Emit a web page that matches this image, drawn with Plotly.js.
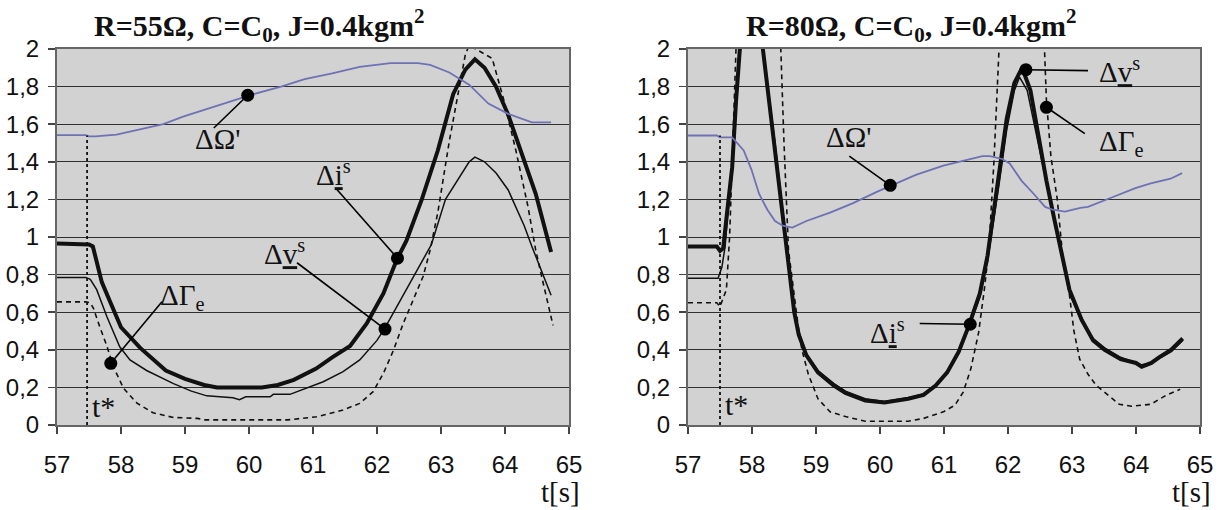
<!DOCTYPE html>
<html>
<head>
<meta charset="utf-8">
<script src="https://cdn.plot.ly/plotly-3.0.1.min.js"></script>
<style>html,body{margin:0;padding:0;background:#fff;}</style>
</head>
<body>
<div id="chart" style="width:1224px;height:510px;"></div>
<script>
// ---------- LEFT: R=55 ohm ----------
const iL_x = [57,57.45,57.5,57.56,57.7,57.8,58.0,58.3,58.7,59.0,59.3,59.5,60.2,60.45,60.7,61.05,61.3,61.58,61.84,62.1,62.31,62.46,62.7,62.95,63.19,63.38,63.53,63.68,63.86,64.05,64.3,64.48,64.72];
const iL_y = [0.965,0.965,0.96,0.95,0.76,0.68,0.52,0.41,0.29,0.245,0.213,0.20,0.20,0.213,0.24,0.30,0.36,0.42,0.54,0.70,0.88,0.98,1.2,1.46,1.76,1.89,1.945,1.9,1.8,1.65,1.41,1.23,0.92];

const vL_x = [57,57.45,57.52,57.62,57.78,57.98,58.14,58.4,58.82,59.1,59.34,59.75,59.85,59.95,60.33,60.38,60.64,60.95,61.16,61.47,61.73,62.0,62.12,62.31,62.57,62.78,62.85,63.07,63.25,63.44,63.53,63.68,63.86,64.05,64.3,64.42,64.72];
const vL_y = [0.785,0.785,0.775,0.72,0.576,0.416,0.346,0.29,0.22,0.18,0.155,0.145,0.135,0.15,0.15,0.163,0.163,0.204,0.23,0.284,0.346,0.45,0.514,0.63,0.79,0.913,0.96,1.2,1.3,1.40,1.425,1.40,1.34,1.25,1.06,0.95,0.69];

const gL_x = [57,57.45,57.52,57.57,57.67,57.78,57.88,58.04,58.25,58.5,58.82,59.2,59.3,60.6,61.06,61.47,61.73,61.94,62.1,62.26,62.41,62.57,62.72,62.83,62.95,63.13,63.25,63.38,63.44,63.8,63.98,64.17,64.36,64.48,64.6,64.75];
const gL_y = [0.655,0.655,0.65,0.62,0.52,0.42,0.31,0.195,0.116,0.065,0.04,0.035,0.027,0.027,0.044,0.08,0.115,0.177,0.275,0.40,0.54,0.665,0.79,0.93,1.13,1.51,1.74,1.97,2.02,1.95,1.73,1.46,1.16,0.93,0.75,0.53];

const wL_x = [57,57.45,57.5,57.6,57.93,58.24,58.66,58.97,59.34,59.77,60.07,60.5,60.87,61.3,61.73,62.21,62.64,62.83,63.13,63.44,63.74,64.05,64.42,64.72];
const wL_y = [1.542,1.542,1.535,1.535,1.545,1.57,1.60,1.64,1.68,1.725,1.76,1.80,1.84,1.87,1.905,1.925,1.925,1.915,1.875,1.81,1.71,1.655,1.61,1.61];

// ---------- RIGHT: R=80 ohm ----------
const iR_x = [57,57.45,57.5,57.55,57.62,57.69,57.75,57.81,57.9,58.0,58.1,58.17,58.24,58.36,58.48,58.54,58.6,58.66,58.73,58.85,59.03,59.28,59.46,59.77,60.07,60.44,60.68,60.87,61.05,61.23,61.39,61.56,61.68,61.86,61.98,62.1,62.22,62.35,62.47,62.6,62.72,62.84,62.96,63.15,63.33,63.51,63.76,64.0,64.09,64.24,64.36,64.55,64.73];
const iR_y = [0.95,0.95,0.926,0.94,1.16,1.37,1.72,2.0,2.25,2.3,2.2,2.0,1.8,1.47,1.11,0.93,0.76,0.6,0.48,0.37,0.28,0.21,0.17,0.13,0.12,0.14,0.16,0.21,0.28,0.39,0.53,0.7,0.9,1.33,1.63,1.82,1.9,1.78,1.54,1.3,1.1,0.92,0.72,0.56,0.45,0.4,0.35,0.33,0.31,0.33,0.36,0.4,0.46];

const vR_x = [57,57.47,57.53,57.58,57.62,57.69,57.75,57.81,57.9,58.0,58.1,58.17,58.24,58.36,58.48,58.54,58.6,58.66,58.73,58.85,59.03,59.28,59.46,59.77,60.07,60.44,60.68,60.87,61.05,61.23,61.39,61.56,61.68,61.86,61.98,62.1,62.18,62.3,62.47,62.6,62.72,62.84,62.96,63.15,63.33,63.51,63.76,64.0,64.09,64.24,64.36,64.55,64.73];
const vR_y = [0.78,0.78,0.84,0.95,1.12,1.33,1.68,1.97,2.2,2.25,2.15,2.0,1.82,1.5,1.14,0.95,0.78,0.63,0.5,0.38,0.29,0.22,0.18,0.14,0.125,0.145,0.165,0.21,0.28,0.38,0.52,0.68,0.87,1.28,1.57,1.78,1.85,1.78,1.5,1.28,1.08,0.9,0.7,0.55,0.46,0.41,0.36,0.33,0.32,0.33,0.355,0.39,0.45];

const gR_x = [57,57.45,57.5,57.6,57.65,57.7,57.75,57.85,58.35,58.45,58.5,58.57,58.66,58.72,58.78,58.88,59.03,59.22,59.46,59.77,60.44,60.68,60.99,61.17,61.3,61.42,61.54,61.63,61.7,61.78,61.86,61.95,62.45,62.57,62.6,62.67,62.77,62.86,62.95,63.03,63.12,63.25,63.38,63.56,63.74,63.93,64.23,64.48,64.69];
const gR_y = [0.65,0.65,0.63,0.72,1.0,1.5,2.0,2.6,2.6,2.0,1.5,0.93,0.67,0.53,0.4,0.27,0.14,0.07,0.045,0.02,0.02,0.035,0.07,0.105,0.175,0.3,0.49,0.72,0.93,1.4,2.0,2.6,2.6,2.0,1.73,1.43,1.2,0.88,0.72,0.5,0.35,0.27,0.21,0.16,0.11,0.1,0.11,0.16,0.19];

const wR_x = [57,57.45,57.5,57.69,57.87,57.99,58.11,58.24,58.36,58.48,58.63,58.85,59.22,59.58,59.95,60.19,60.56,60.99,61.3,61.6,61.72,61.91,62.03,62.21,62.4,62.58,62.7,62.89,63.13,63.25,63.62,63.99,64.23,64.54,64.72];
const wR_y = [1.54,1.54,1.53,1.53,1.46,1.36,1.23,1.145,1.085,1.06,1.05,1.085,1.13,1.18,1.24,1.275,1.33,1.38,1.405,1.43,1.43,1.415,1.39,1.30,1.23,1.16,1.145,1.135,1.155,1.16,1.21,1.26,1.285,1.31,1.34];

// t* markers (time, top value)
const tStar = [57.47, 57.5];
const tStarTop = [1.54, 1.54];

// callouts: circle point, leader end, label
const cL_px = [59.98, 62.32, 62.125, 57.84];
const cL_py = [1.754, 0.887, 0.51, 0.328];
const cL_ex = [59.45, 61.36, 60.75, 58.64];
const cL_ey = [1.58, 1.258, 0.863, 0.656];
const lblL = ["ΔΩ'", "Δ<u>i</u><sup>s</sup>", "Δ<u>v</u><sup>s</sup>", "ΔΓ<sub>e</sub>"];
const lblL_x = [59.5, 61.32, 60.55, 58.95];
const lblL_y = [1.52, 1.34, 0.92, 0.68];

const cR_px = [60.16, 62.28, 62.6, 61.41];
const cR_py = [1.275, 1.89, 1.69, 0.536];
const cR_ex = [59.52, 63.25, 63.2, 60.62];
const cR_ey = [1.43, 1.885, 1.55, 0.54];
const lblR = ["ΔΩ'", "Δ<u>v</u><sup>s</sup>", "ΔΓ<sub>e</sub>", "Δ<u>i</u><sup>s</sup>"];
const lblR_x = [59.5, 63.74, 63.77, 60.12];
const lblR_y = [1.53, 1.89, 1.5, 0.5];

const titles = ["R=55Ω, C=C<sub>0</sub>, J=0.4kgm<sup>2</sup>", "R=80Ω, C=C<sub>0</sub>, J=0.4kgm<sup>2</sup>"];
const xTicks = [57,58,59,60,61,62,63,64,65];

// ---------- build ----------
const SERIF = "Liberation Serif, Times New Roman, serif";
const SANS = "Liberation Sans Narrow, Arial Narrow, Liberation Sans, Arial, sans-serif";
const BLUE = "#7070b4";

function panel(xa, ya, d) {
  const tr = [];
  tr.push({x: d.gx, y: d.gy, xaxis: xa, yaxis: ya, mode: 'lines', line: {color: '#111', width: 1.6, dash: '5px,4px'}, hoverinfo: 'skip'});
  tr.push({x: d.vx, y: d.vy, xaxis: xa, yaxis: ya, mode: 'lines', line: {color: '#111', width: 1.5}, hoverinfo: 'skip'});
  tr.push({x: d.ix, y: d.iy, xaxis: xa, yaxis: ya, mode: 'lines', line: {color: '#111', width: 4}, hoverinfo: 'skip'});
  tr.push({x: d.wx, y: d.wy, xaxis: xa, yaxis: ya, mode: 'lines', line: {color: BLUE, width: 1.8}, hoverinfo: 'skip'});
  tr.push({x: [d.ts, d.ts], y: [0, d.tsTop], xaxis: xa, yaxis: ya, mode: 'lines', line: {color: '#111', width: 1.8, dash: 'dot'}, hoverinfo: 'skip'});
  const lx = [], ly = [];
  for (let k = 0; k < d.px.length; k++) { lx.push(d.px[k], d.ex[k], null); ly.push(d.py[k], d.ey[k], null); }
  tr.push({x: lx, y: ly, xaxis: xa, yaxis: ya, mode: 'lines', line: {color: '#000', width: 1.6}, hoverinfo: 'skip'});
  tr.push({x: d.px, y: d.py, xaxis: xa, yaxis: ya, mode: 'markers', marker: {color: '#000', size: 13, symbol: 'circle'}, hoverinfo: 'skip'});
  return tr;
}

const traces = [].concat(
  panel('x', 'y', {gx: gL_x, gy: gL_y, vx: vL_x, vy: vL_y, ix: iL_x, iy: iL_y, wx: wL_x, wy: wL_y, ts: tStar[0], tsTop: tStarTop[0], px: cL_px, py: cL_py, ex: cL_ex, ey: cL_ey}),
  panel('x2', 'y2', {gx: gR_x, gy: gR_y, vx: vR_x, vy: vR_y, ix: iR_x, iy: iR_y, wx: wR_x, wy: wR_y, ts: tStar[1], tsTop: tStarTop[1], px: cR_px, py: cR_py, ex: cR_ex, ey: cR_ey})
);

const W = 1224, H = 510;
const xdomL = [57 / W, 569 / W], xdomR = [688 / W, 1200 / W];
const ydom = [(H - 425) / H, (H - 49) / H];

function xax(dom, anchor) {
  return {domain: dom, anchor: anchor, range: [57, 65], tickvals: xTicks, ticks: 'outside', ticklen: 7, tickwidth: 1.5, tickcolor: '#444',
    showgrid: false, zeroline: false, showline: true, linecolor: '#666', linewidth: 2, mirror: true,
    tickfont: {family: SANS, size: 24, color: '#111'}, ticklabelstandoff: 10, fixedrange: true};
}
function yax(anchor) {
  return {domain: ydom, anchor: anchor, range: [0, 2], dtick: 0.2, tick0: 0, ticks: 'outside', ticklen: 7, tickwidth: 1.5, tickcolor: '#444',
    showgrid: true, gridcolor: '#303030', gridwidth: 1, zeroline: false, showline: true, linecolor: '#666', linewidth: 2, mirror: true,
    tickfont: {family: SANS, size: 24, color: '#111'}, ticklabelstandoff: 4, fixedrange: true};
}

const ann = [];
function addLabels(xr, yr, txt, xs, ys) {
  for (let k = 0; k < txt.length; k++) {
    ann.push({xref: xr, yref: yr, x: xs[k], y: ys[k], text: txt[k], showarrow: false, xanchor: 'center', yanchor: 'middle',
      font: {family: SERIF, size: 29, color: '#111'}});
  }
}
addLabels('x', 'y', lblL, lblL_x, lblL_y);
addLabels('x2', 'y2', lblR, lblR_x, lblR_y);
ann.push({xref: 'x', yref: 'y', x: tStar[0] + 0.04, y: 0.1, text: 't*', showarrow: false, xanchor: 'left', yanchor: 'middle', font: {family: SERIF, size: 30, color: '#111'}});
ann.push({xref: 'x2', yref: 'y2', x: tStar[1] + 0.04, y: 0.11, text: 't*', showarrow: false, xanchor: 'left', yanchor: 'middle', font: {family: SERIF, size: 30, color: '#111'}});
ann.push({xref: 'paper', yref: 'paper', x: 582 / W, y: (H - 492) / H, text: 't[s]', showarrow: false, xanchor: 'right', yanchor: 'middle', font: {family: SERIF, size: 29, color: '#111'}});
ann.push({xref: 'paper', yref: 'paper', x: 1213 / W, y: (H - 492) / H, text: 't[s]', showarrow: false, xanchor: 'right', yanchor: 'middle', font: {family: SERIF, size: 29, color: '#111'}});
ann.push({xref: 'paper', yref: 'paper', x: 259 / W, y: (H - 25) / H, text: '<b>' + titles[0] + '</b>', showarrow: false, xanchor: 'center', yanchor: 'middle', font: {family: SERIF, size: 30, color: '#111'}});
ann.push({xref: 'paper', yref: 'paper', x: 911 / W, y: (H - 25) / H, text: '<b>' + titles[1] + '</b>', showarrow: false, xanchor: 'center', yanchor: 'middle', font: {family: SERIF, size: 30, color: '#111'}});

const layout = {
  width: W, height: H, margin: {l: 0, r: 0, t: 0, b: 0}, showlegend: false,
  paper_bgcolor: '#ffffff', plot_bgcolor: '#d2d2d2', separators: ',.',
  xaxis: xax(xdomL, 'y'), yaxis: yax('x'),
  xaxis2: xax(xdomR, 'y2'), yaxis2: yax('x2'),
  annotations: ann
};

Plotly.newPlot('chart', traces, layout, {staticPlot: true, displayModeBar: false});
</script>
</body>
</html>
